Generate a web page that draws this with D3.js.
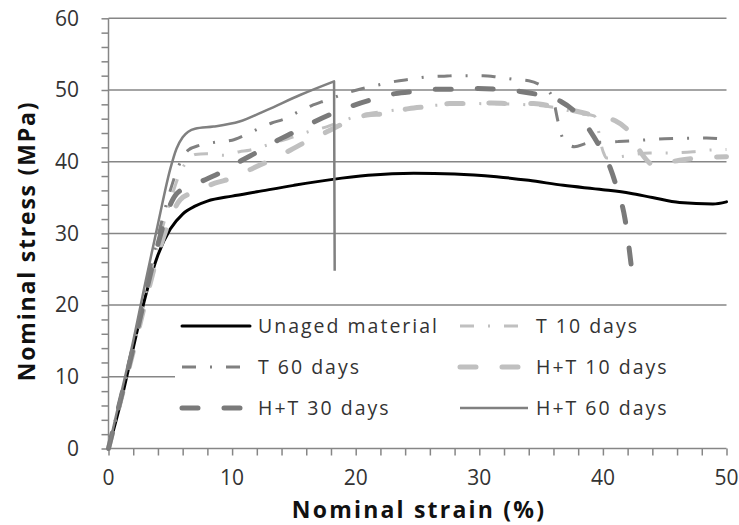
<!DOCTYPE html>
<html><head><meta charset="utf-8">
<script src="https://cdn.jsdelivr.net/npm/d3@7"></script>
<style>body{margin:0;background:#fff}svg{display:block}</style>
</head><body>
<svg id="c" width="739" height="525"></svg>
<script>
const xTicks = [0,10,20,30,40,50];
const yTicks = [0,10,20,30,40,50,60];
const seriesNames = ["Unaged material","T 10 days","T 60 days","H+T 10 days","H+T 30 days","H+T 60 days"];

const unaged = [[0,0],[1,6.5],[2,14],[3,21.3],[4,27],[5,30.6],[6,32.7],[7,33.8],[8,34.5],[10,35.2],[12,35.8],[15,36.7],[18,37.5],[21,38.1],[24.7,38.4],[28,38.3],[31.4,37.9],[34,37.4],[36.8,36.7],[40,36.1],[42.2,35.6],[44,35],[46.2,34.3],[48.9,34.1],[50,34.4]];
const t10 = [[0,0],[1,7],[2,14],[3,21.5],[4,28.5],[5,34.5],[5.8,38.5],[6.5,40.3],[7,41],[7.9,41.1],[9.3,40.9],[10.6,41.4],[11.4,41.6],[12.8,42.3],[14.5,43.2],[16.2,44.2],[17.7,44.9],[18.5,45.4],[20,46.3],[23.2,47.2],[26.7,47.9],[30,48.1],[33,48],[36,47.6],[38.2,46.7],[39.3,46.4],[40,41.5],[40.3,40.5],[41.4,40.7],[43.8,41.2],[45,41.2],[47.3,41.4],[48.4,41.6],[50,41.7]];
const t60 = [[0,0],[1,7.2],[2,14.6],[3,22.2],[4,29.6],[5,36],[5.7,39.5],[6.45,41.6],[7.4,42.3],[8.6,42.7],[10,43],[10.9,43.6],[12,44.5],[13.2,45.4],[14.3,46],[15.4,47],[16.4,47.8],[17.5,48.5],[20.1,50],[22.1,50.8],[23.2,51.2],[24.4,51.5],[25.6,51.8],[27.4,51.95],[28,52],[30.3,52],[31.5,51.8],[32.7,51.5],[34,51.3],[35,50.6],[35.9,49.1],[36.4,45.4],[36.8,43.1],[37.7,42.1],[38.8,42.6],[41.2,42.8],[42.3,42.9],[45,43.2],[48.4,43.3],[50,43.1]];
const ht10 = [[0,0],[1,6.8],[2,13.5],[3,20.5],[4,27],[5,32],[5.8,34.7],[7,35.8],[8.6,37],[10,37.7],[11.7,39.1],[13.1,40.2],[14.7,41.6],[16,42.8],[17.7,44.2],[18.5,44.9],[20.9,46.5],[22.4,46.7],[24.3,47.4],[25.9,47.7],[27.6,48.1],[29.2,48.1],[31,48.2],[32.6,48.1],[34.4,48.1],[36,47.7],[38.7,46.7],[41,45.7],[42.2,44],[43.1,41.2],[44.2,39.5],[45,39.8],[46.2,40.2],[47.6,40.5],[50,40.7]];
const ht30 = [[0,0],[1,7],[2,14],[3,21.5],[4,28.5],[5,34],[5.5,35.5],[6.5,36.5],[7.7,37.4],[9.2,38.6],[10.8,40.2],[12.1,41.4],[13.7,43],[15.1,44.2],[16.7,45.6],[18.1,46.7],[19.9,47.9],[21.2,48.6],[23.2,49.5],[24.8,49.8],[26.6,50.1],[28.2,50.1],[29.9,50.2],[31.5,50.1],[33.3,49.8],[34.9,49.3],[36.6,48.4],[37.9,46.7],[39,44.2],[39.8,41.9],[40.6,39.1],[41.1,36.5],[41.8,31.9],[42.3,25.4]];
const ht60 = [[0,0],[1,7.5],[2,15],[3,23.3],[4,31.3],[5,39],[5.5,41.8],[6,43.4],[7,44.6],[8.5,44.9],[10.6,45.6],[12.8,47.2],[15.5,49.3],[18.25,51.2],[18.3,24.8]];

const seriesData = [unaged,t10,t60,ht10,ht30,ht60];
const seriesStyle = [
  {color:"#000000", width:3, dash:null, cap:"round"},
  {color:"#c0c0c0", width:3, dash:"14,14,2,14", cap:"butt"},
  {color:"#808080", width:3, dash:"14,14,2,14", cap:"butt"},
  {color:"#c0c0c0", width:5, dash:"16,26", cap:"round"},
  {color:"#7a7a7a", width:5, dash:"16,26", cap:"round"},
  {color:"#808080", width:2.5, dash:null, cap:"butt"}
];

const svg = d3.select("#c");
const x = d3.scaleLinear().domain([0,50]).range([108.5,726.5]);
const y = d3.scaleLinear().domain([0,60]).range([448.5,18.3]);
const font = "'Open Sans', sans-serif";
const gridC = "#868686";

// gridlines
svg.append("g").selectAll("line").data(yTicks.filter(d=>d>0)).join("line")
  .attr("x1",x(0)).attr("x2",x(50)).attr("y1",d=>y(d)).attr("y2",d=>y(d))
  .attr("stroke",gridC).attr("stroke-width",1.5);

// axes
const xAxis = d3.axisBottom(x).tickValues(d3.range(0,51,2)).tickSize(7).tickFormat("");
const gx = svg.append("g").attr("transform",`translate(0,${y(0)})`).call(xAxis);
const yAxis = d3.axisLeft(y).tickValues(d3.range(0,61,2)).tickSize(7).tickFormat("");
const gy = svg.append("g").attr("transform",`translate(${x(0)},0)`).call(yAxis);
[gx,gy].forEach(g=>{
  g.select(".domain").attr("stroke",gridC).attr("stroke-width",1.5);
  g.selectAll(".tick line").attr("stroke",gridC).attr("stroke-width",1.5);
});
gx.select(".domain").attr("d",`M${x(0)},0H${x(50)}`);
gy.select(".domain").attr("d",`M0,${y(0)}V${y(60)}`);

// tick labels
svg.append("g").selectAll("text").data(xTicks).join("text")
  .attr("x",d=>x(d)).attr("y",478).attr("dy","0.35em")
  .attr("text-anchor","middle").attr("font-family",font).attr("font-size",21)
  .attr("fill","#333").text(d=>d);
svg.append("g").selectAll("text").data(yTicks).join("text")
  .attr("x",79).attr("y",d=>y(d)).attr("dy","0.35em")
  .attr("text-anchor","end").attr("font-family",font).attr("font-size",21)
  .attr("fill","#333").text(d=>d);

// axis titles
svg.append("text").attr("x",419).attr("y",510).attr("dy","0.35em")
  .attr("text-anchor","middle").attr("font-family",font).attr("font-weight","bold")
  .attr("font-size",23).attr("letter-spacing",2.2).attr("fill","#111").text("Nominal strain (%)");
svg.append("text").attr("transform","translate(27,241) rotate(-90)").attr("dy","0.35em")
  .attr("text-anchor","middle").attr("font-family",font).attr("font-weight","bold")
  .attr("font-size",23).attr("letter-spacing",1.8).attr("fill","#111").text("Nominal stress (MPa)");

// series
const line = d3.line().x(d=>x(d[0])).y(d=>y(d[1])).curve(d3.curveMonotoneX);
seriesData.forEach((data,i)=>{
  const s = seriesStyle[i];
  const d = i===5
    ? line(data.slice(0,-1)) + "L" + x(data[data.length-1][0]) + "," + y(data[data.length-1][1])
    : line(data);
  svg.append("path").attr("d", d)
    .attr("fill","none").attr("stroke",s.color).attr("stroke-width",s.width)
    .attr("stroke-dasharray",s.dash).attr("stroke-linecap",s.cap).attr("stroke-linejoin","round");
});

// legend
const lg = svg.append("g");
lg.append("rect").attr("x",175).attr("y",y(20)+1.5).attr("width",x(50)-175+1).attr("height",118).attr("fill","#fff");
const legPos = [[0,0],[1,0],[0,1],[1,1],[0,2],[1,2]];
seriesNames.forEach((name,i)=>{
  const cx = legPos[i][0] ? 460 : 182;
  const cy = 326 + legPos[i][1]*41;
  const s = seriesStyle[i];
  lg.append("line").attr("x1",cx).attr("x2",cx+68).attr("y1",cy).attr("y2",cy)
    .attr("stroke",s.color).attr("stroke-width",s.width).attr("stroke-dasharray",s.dash)
    .attr("stroke-linecap",s.cap);
  lg.append("text").attr("x",cx+76).attr("y",cy).attr("dy","0.35em")
    .attr("font-family",font).attr("font-size",19.5).attr("letter-spacing",2)
    .attr("fill","#333").text(name);
});
</script>
</body></html>
